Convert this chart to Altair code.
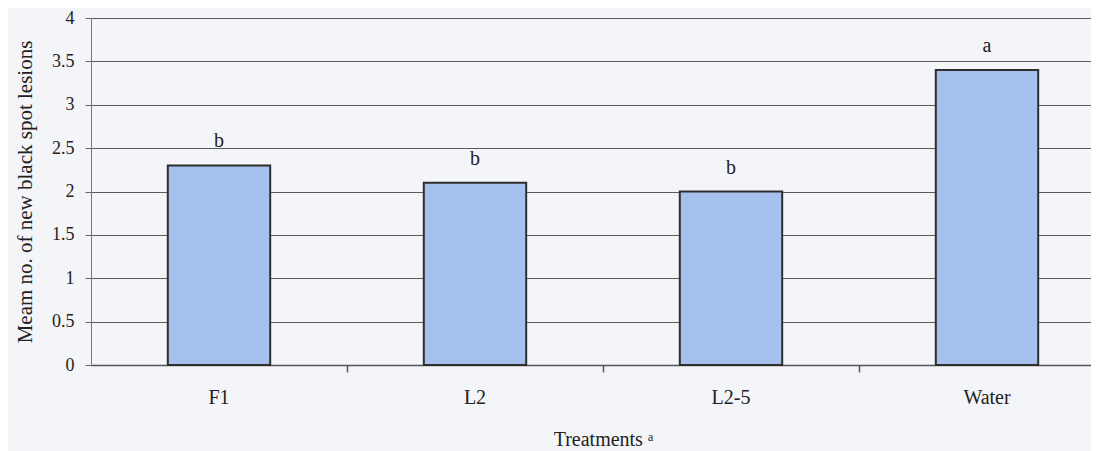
import altair as alt
import pandas as pd

treatments = ["F1", "L2", "L2-5", "Water"]
mean_lesions = [2.3, 2.1, 2.0, 3.4]
letters = ["b", "b", "b", "a"]

df = pd.DataFrame({"treatment": treatments, "mean": mean_lesions, "letter": letters})

FONT = "Liberation Serif"
xscale = alt.Scale(paddingInner=0.6, paddingOuter=0.3, range=[0, 1024])
yscale = alt.Scale(domain=[0, 4], nice=False)

base = alt.Chart(df)

bars = base.mark_bar(fill="#a6c0ee", stroke="#2e2e2e", strokeWidth=2).encode(
    x=alt.X("treatment:N", sort=treatments, scale=xscale,
            axis=alt.Axis(title="Treatments ᵃ", labelAngle=0, ticks=False,
                          labelPadding=22, titlePadding=22, orient="bottom",
                          labelFontSize=20, titleFontSize=20,
                          domainColor="#555555", domainWidth=1.5)),
    y=alt.Y("mean:Q", scale=yscale,
            axis=alt.Axis(title="Meam no. of new black spot lesions",
                          values=[0, 0.5, 1, 1.5, 2, 2.5, 3, 3.5, 4],
                          format="~g", tickSize=6, labelPadding=11,
                          labelFontSize=18, titleFontSize=21,
                          titlePadding=16, grid=True, gridColor="#5a5a5a",
                          gridWidth=1, domainColor="#777777",
                          tickColor="#666666")),
)

labels = base.mark_text(font=FONT, fontSize=20, color="#222222",
                        baseline="alphabetic", dy=-18).encode(
    x=alt.X("treatment:N", sort=treatments, axis=None),
    y=alt.Y("mean:Q"),
    text="letter:N",
)

tickmarks = base.mark_point(opacity=0).encode(
    x=alt.X("treatment:N", sort=treatments,
            axis=alt.Axis(orient="bottom", labels=False, title=None,
                          ticks=True, tickSize=7, bandPosition=1.75,
                          domain=False, tickColor="#555555", tickWidth=1.5)),
    y=alt.Y("mean:Q"),
)

chart = alt.layer(bars, labels, tickmarks).resolve_axis(x="independent").properties(
    width=1000,
    height=347,
    background="#f4f5f9",
    autosize=alt.AutoSizeParams(type="none"),
    padding={"left": 83, "top": 10, "right": 0, "bottom": 86},
).configure_axis(
    labelFont=FONT, titleFont=FONT,
    labelColor="#222222", titleColor="#222222", titleFontWeight="normal",
).configure_view(stroke=None)

chart.save("out.html", embed_options={"renderer": "svg", "actions": False})
